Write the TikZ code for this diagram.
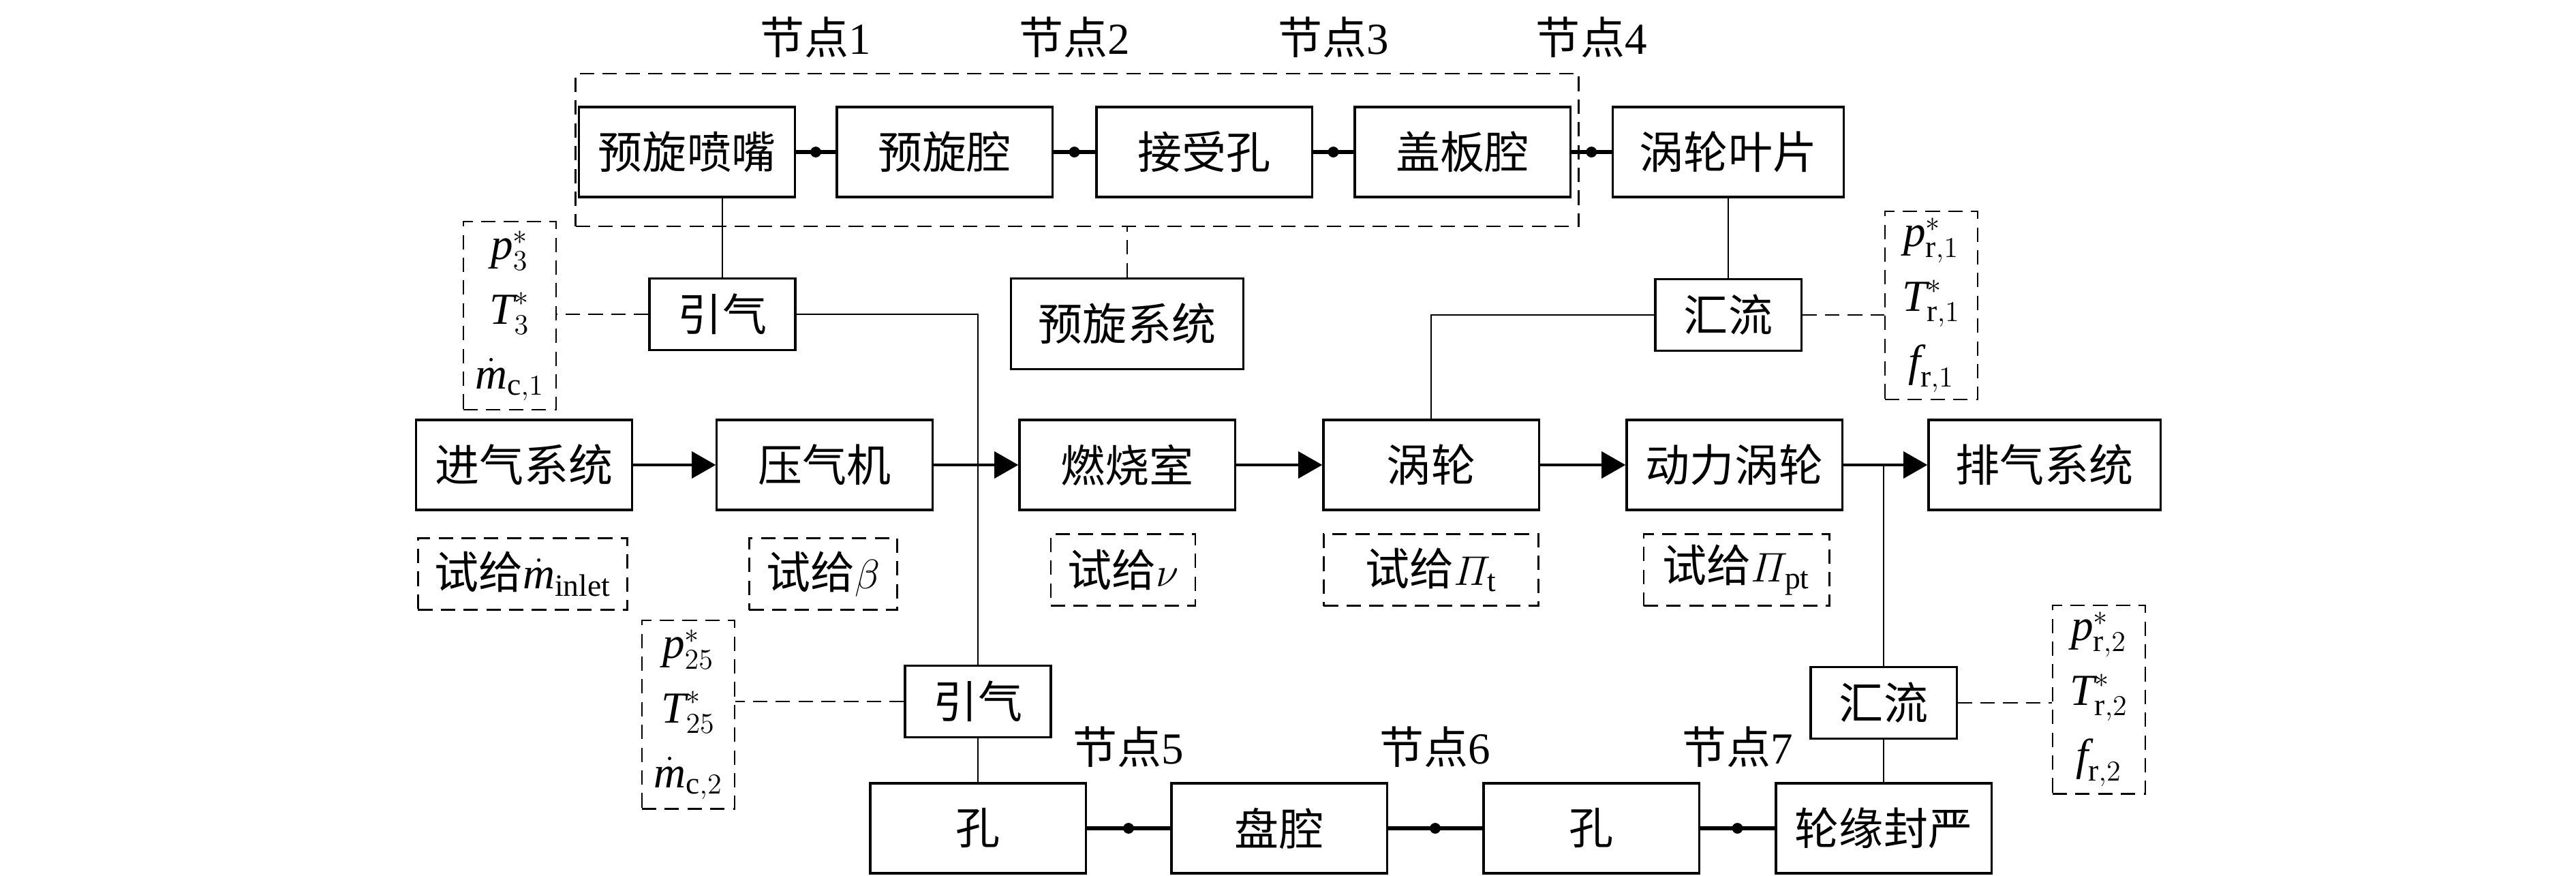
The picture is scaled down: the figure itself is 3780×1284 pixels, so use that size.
\documentclass[tikz,border=0pt]{standalone}
\usepackage{amsmath}
\usepackage{fontspec}
\setmainfont{Liberation Serif}
\newfontfamily\cjk{Noto Sans CJK SC}
\usetikzlibrary{arrows.meta, positioning, calc}

\begin{document}
\begin{tikzpicture}[x=0.01cm, y=-0.01cm,
    block/.style={rectangle, draw, line width=0.9pt, minimum width=3.16cm, minimum height=1.32cm, inner sep=0pt, font=\cjk\fontsize{18.5}{24}\selectfont},
    tap/.style={block, minimum width=2.14cm, minimum height=1.05cm},
    guess/.style={rectangle, draw, line width=0.8pt, dash pattern=on 6pt off 3.5pt, minimum height=1.05cm, inner sep=0pt, font=\cjk\fontsize{18.5}{24}\selectfont},
    vars/.style={guess, minimum width=1.36cm, minimum height=2.76cm, align=center, font=\fontsize{18.5}{27}\selectfont},
    flow/.style={line width=1.4pt, -{Triangle[length=10pt,width=11pt]}},
    chain/.style={line width=1.5pt},
    wire/.style={line width=0.7pt},
    note/.style={line width=0.8pt, dash pattern=on 6pt off 3.5pt},
    joint/.style={circle, fill, inner sep=0pt, minimum size=4.5pt},
    tag/.style={font=\cjk\fontsize{18.5}{24}\selectfont}]

    \useasboundingbox (0,0) rectangle (3780,1284);

    % pre-swirl system
    \node[note, draw, minimum width=14.71cm, minimum height=2.24cm, inner sep=0pt] (preswirl) at (1580.5,220) {};
    \node[block] (nozzle) at (1008,223) {预旋喷嘴};
    \node[block] (precav) at (1386,223) {预旋腔};
    \node[block] (recv) at (1767,223) {接受孔};
    \node[block] (coverc) at (2146,223) {盖板腔};
    \node[block, minimum width=3.39cm] (blade) at (2536,223) {涡轮叶片};

    \node[tap] (bleed1) at (1060,461) {引气};
    \node[block, minimum width=3.4cm, minimum height=1.33cm] (swirlsys) at (1654,475) {预旋系统};
    \node[tap] (merge1) at (2536,462) {汇流};

    \node[vars] (v3) at (748,463) {$\textit{p}^{*}_{3}$\\$\textit{T}^{*}_{3}$\\$\dot{\textit{m}}_{\mathrm{c},1}$};
    \node[vars] (vr1) at (2834,448) {$\textit{p}^{*}_{\mathrm{r},1}$\\$\textit{T}^{*}_{\mathrm{r},1}$\\$\textit{f}_{\mathrm{r},1}$};

    % main gas path
    \node[block] (inlet) at (769,682) {进气系统};
    \node[block] (comp) at (1210,682) {压气机};
    \node[block] (comb) at (1654,682) {燃烧室};
    \node[block] (turb) at (2100,682) {涡轮};
    \node[block] (pturb) at (2545,682) {动力涡轮};
    \node[block, minimum width=3.4cm] (exhaust) at (3000,682) {排气系统};

    \node[guess, minimum width=3.07cm] (g1) at (767,842) {试给{\rmfamily$\dot{\textit{m}}_{\mathrm{inlet}}$}};
    \node[guess, minimum width=2.17cm] (g2) at (1208,842) {试给$\beta$};
    \node[guess, minimum width=2.12cm] (g3) at (1648,836) {试给$\nu$};
    \node[guess, minimum width=3.15cm] (g4) at (2100,836) {试给$\varPi_{\mathrm{t}}$};
    \node[guess, minimum width=2.72cm] (g5) at (2548,836) {试给$\varPi_{\mathrm{pt}}$};

    % disc cavity path
    \node[tap] (bleed2) at (1435,1029) {引气};
    \node[tap] (merge2) at (2764,1031) {汇流};
    \node[vars] (v25) at (1010,1048) {$\textit{p}^{*}_{25}$\\$\textit{T}^{*}_{25}$\\$\dot{\textit{m}}_{\mathrm{c},2}$};
    \node[vars] (vr2) at (3080,1026) {$\textit{p}^{*}_{\mathrm{r},2}$\\$\textit{T}^{*}_{\mathrm{r},2}$\\$\textit{f}_{\mathrm{r},2}$};

    \node[block] (hole1) at (1435,1215) {孔};
    \node[block] (disc) at (1877,1215) {盘腔};
    \node[block] (hole2) at (2335,1215) {孔};
    \node[block] (rim) at (2764,1215) {轮缘封严};

    \draw[flow] (inlet) -- (comp);
    \draw[flow] (comp) -- (comb);
    \draw[flow] (comb) -- (turb);
    \draw[flow] (turb) -- (pturb);
    \draw[flow] (pturb) -- (exhaust);

    \draw[chain] (nozzle) -- node[joint] (j1) {} (precav);
    \draw[chain] (precav) -- node[joint] (j2) {} (recv);
    \draw[chain] (recv) -- node[joint] (j3) {} (coverc);
    \draw[chain] (coverc) -- node[joint] (j4) {} (blade);
    \draw[chain] (hole1) -- node[joint] (j5) {} (disc);
    \draw[chain] (disc) -- node[joint] (j6) {} (hole2);
    \draw[chain] (hole2) -- node[joint] (j7) {} (rim);

    \node[tag] at (j1 |- 0,55) {节点{\rmfamily 1}};
    \node[tag] at (j2 |- 0,55) {节点{\rmfamily 2}};
    \node[tag] at (j3 |- 0,55) {节点{\rmfamily 3}};
    \node[tag] at (j4 |- 0,55) {节点{\rmfamily 4}};
    \node[tag] at (j5 |- 0,1096) {节点{\rmfamily 5}};
    \node[tag] at (j6 |- 0,1096) {节点{\rmfamily 6}};
    \node[tag] at (j7 |- 0,1096) {节点{\rmfamily 7}};

    \draw[wire] (bleed1.north) -- (bleed1.north |- nozzle.south);
    \draw[wire] (bleed1.east) -| (bleed2.north);
    \draw[wire] (bleed2) -- (hole1);
    \draw[wire] (blade) -- (merge1);
    \draw[wire] (merge1.west) -| (turb.north);
    \draw[wire] (merge2.north) -- (merge2.north |- pturb.east);
    \draw[wire] (merge2) -- (rim);

    \draw[note] (swirlsys.north) -- (swirlsys.north |- preswirl.south);
    \draw[note] (bleed1.west) -- (bleed1.west -| v3.east);
    \draw[note] (bleed2.west) -- (bleed2.west -| v25.east);
    \draw[note] (merge1.east) -- (merge1.east -| vr1.west);
    \draw[note] (merge2.east) -- (merge2.east -| vr2.west);
\end{tikzpicture}
\end{document}
